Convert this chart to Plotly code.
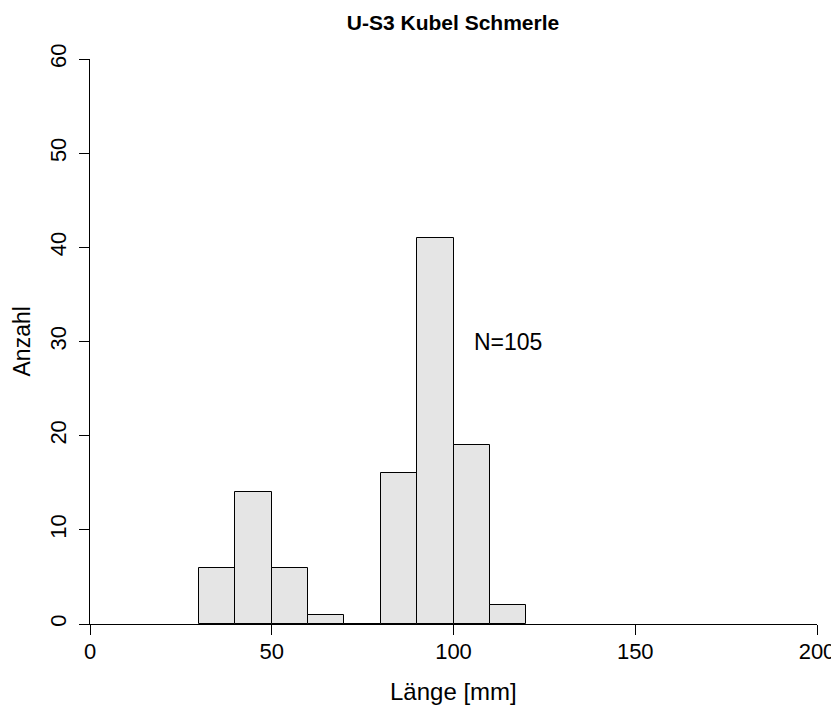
import plotly.graph_objects as go

bin_left = [30, 40, 50, 60, 70, 80, 90, 100, 110]
counts = [6, 14, 6, 1, 0, 16, 41, 19, 2]
bin_width = 10
x_ticks = [0, 50, 100, 150, 200]
y_ticks = [0, 10, 20, 30, 40, 50, 60]
title = "U-S3 Kubel Schmerle"
x_title = "Länge [mm]"
y_title = "Anzahl"
n_label = "N=105"

centers = [b + bin_width / 2 for b in bin_left]
FONT = "Liberation Sans, Arial, sans-serif"

# the page body adds an 8px offset, so the figure is 8px smaller
W, H = 831, 700

fig = go.Figure()
fig.add_trace(go.Bar(
    x=centers, y=counts, width=[bin_width] * len(counts),
    marker=dict(color="#E5E5E5", line=dict(color="black", width=1)),
    showlegend=False, hoverinfo="x+y",
))

fig.add_annotation(x=115, y=30, text=n_label, showarrow=False,
                   xanchor="center", yanchor="middle",
                   font=dict(family=FONT, size=23, color="black"))
# axis titles
fig.add_annotation(x=0.5, y=0, xref="paper", yref="paper", yshift=-67,
                   text=x_title, showarrow=False, xanchor="center", yanchor="middle",
                   font=dict(family=FONT, size=24, color="black"))
fig.add_annotation(x=0, y=0.5, xref="paper", yref="paper", xshift=-69,
                   text=y_title, showarrow=False, textangle=-90,
                   xanchor="center", yanchor="middle",
                   font=dict(family=FONT, size=23, color="black"))

fig.update_layout(
    width=W, height=H,
    margin=dict(l=82, r=22, t=51, b=84, autoexpand=False),
    paper_bgcolor="white", plot_bgcolor="white",
    font=dict(family=FONT, color="black"),
    title=dict(text="<b>" + title + "</b>", x=445 / W, xanchor="center",
               y=1 - 15 / H, yanchor="middle",
               font=dict(family=FONT, size=21, color="black")),
    bargap=0,
    xaxis=dict(range=[0, 200], tickvals=x_ticks, showgrid=False, zeroline=False,
               showline=True, linecolor="black", linewidth=1, automargin=False,
               ticks="outside", ticklen=10, tickcolor="black",
               tickfont=dict(family=FONT, size=22), ticklabelstandoff=-2),
    yaxis=dict(range=[0, 60], tickvals=y_ticks, showgrid=False, zeroline=False,
               showline=True, linecolor="black", linewidth=1, automargin=False,
               ticks="outside", ticklen=10, tickcolor="black", tickangle=-90,
               tickfont=dict(family=FONT, size=22), ticklabelstandoff=4),
)

fig.write_html("out.html")
